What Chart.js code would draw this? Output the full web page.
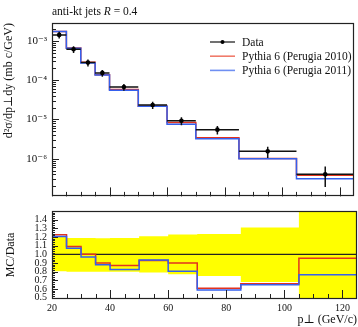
<!DOCTYPE html>
<html>
<head>
<meta charset="utf-8">
<script src="https://cdn.jsdelivr.net/npm/chart.js@4"></script>
<style>
  html, body { margin: 0; padding: 0; background: #fff; }
  #wrap { position: relative; width: 358px; height: 327px; }
  #mainBox { position: absolute; left: 0; top: 0; width: 358px; height: 208px; }
  #ratioBox { position: absolute; left: 0; top: 200px; width: 358px; height: 127px; }
</style>
</head>
<body>
<div id="wrap">
  <div id="mainBox"><canvas id="mainChart"></canvas></div>
  <div id="ratioBox"><canvas id="ratioChart"></canvas></div>
</div>
<script>
// p_T bin edges (GeV/c)
const binEdges = [20, 25, 30, 35, 40, 50, 60, 70, 85, 105, 125];

// measured cross section, mb c/GeV
const dataVals = [1.42e-3, 6.1e-4, 2.8e-4, 1.53e-4, 6.7e-5, 2.34e-5, 9.3e-6, 5.5e-6, 1.54e-6, 4.0e-7];
// relative uncertainties (up / down)
const dataErrUp = [0.21, 0.19, 0.19, 0.185, 0.19, 0.21, 0.23, 0.235, 0.31, 0.58];
const dataErrDn = [0.195, 0.20, 0.20, 0.20, 0.20, 0.21, 0.23, 0.25, 0.32, 0.52];

// MC predictions
const mc2010 = [1.74e-3, 6.6e-4, 2.85e-4, 1.38e-4, 5.8e-5, 2.18e-5, 8.4e-6, 3.4e-6, 1.02e-6, 3.8e-7];
const mc2011 = [1.72e-3, 6.5e-4, 2.72e-4, 1.35e-4, 5.5e-5, 2.18e-5, 7.5e-6, 3.25e-6, 1.0e-6, 3.1e-7];

// MC / Data
const ratio2010 = [1.225, 1.09, 1.0, 0.90, 0.87, 0.93, 0.90, 0.61, 0.66, 0.955];
const ratio2011 = [1.205, 1.07, 0.97, 0.88, 0.825, 0.935, 0.805, 0.59, 0.65, 0.765];

// tick labels
const xTicks = [20, 40, 60, 80, 100, 120];
const logTicks = [1e-6, 1e-5, 1e-4, 1e-3];
const ratioTicks = [0.5, 0.6, 0.7, 0.8, 0.9, 1.0, 1.1, 1.2, 1.3, 1.4];

const SERIF = "'Liberation Serif', 'DejaVu Serif', serif";
const RED = '#e2331f';
const BLUE = '#3560ee';

const histPoints = vals => binEdges.map((e, i) => ({ x: e, y: vals[Math.min(i, vals.length - 1)] }));
const binMid = binEdges.slice(0, -1).map((e, i) => (e + binEdges[i + 1]) / 2);

const supMap = { '-': '\u207B', '0': '\u2070', '1': '\u00B9', '2': '\u00B2', '3': '\u00B3', '4': '\u2074', '5': '\u2075', '6': '\u2076', '7': '\u2077', '8': '\u2078', '9': '\u2079' };
const sup = n => String(n).split('').map(c => supMap[c]).join('');

// minor tick positions
const xMinor = [];
for (let v = 25; v < 125; v += 5) if (v % 20 !== 0) xMinor.push(v);
const logMinor = [];
for (let e = -7; e <= -3; e++) for (let m = 2; m <= 9; m++) logMinor.push(m * Math.pow(10, e));
const ratioMinor = [];
for (let k = 25; k <= 75; k++) if (k % 5 !== 0) ratioMinor.push(k / 50);

// frame + inward ticks
function makeFrame(cfg) {
  return {
    id: 'frame',
    afterDraw(chart) {
      const { ctx, chartArea: a, scales } = chart;
      ctx.save();
      ctx.strokeStyle = '#222';
      ctx.lineWidth = 1;
      const seg = (x1, y1, x2, y2) => { ctx.beginPath(); ctx.moveTo(x1, y1); ctx.lineTo(x2, y2); ctx.stroke(); };
      cfg.yMajor.forEach(v => { const p = Math.round(scales.y.getPixelForValue(v)) + 0.5; seg(a.left, p, a.left + cfg.yMajLen, p); });
      cfg.yMinor.forEach(v => {
        const p = Math.round(scales.y.getPixelForValue(v)) + 0.5;
        if (p > a.top && p < a.bottom) seg(a.left, p, a.left + cfg.yMinLen, p);
      });
      cfg.xMajor.forEach(v => { const p = Math.round(scales.x.getPixelForValue(v)) + 0.5; seg(p, a.bottom, p, a.bottom - cfg.xMajLen); });
      cfg.xMinor.forEach(v => { const p = Math.round(scales.x.getPixelForValue(v)) + 0.5; seg(p, a.bottom, p, a.bottom - cfg.xMinLen); });
      ctx.lineWidth = 1.2;
      ctx.strokeRect(Math.round(a.left) + 0.5, Math.round(a.top) + 0.5, Math.round(a.width) - 1, Math.round(a.height) - 1);
      ctx.restore();
    }
  };
}

// data error bars, drawn just before the data markers
const errorBars = {
  id: 'errorBars',
  beforeDatasetDraw(chart, args) {
    if (args.index !== 0) return;
    const { ctx, scales: { x, y } } = chart;
    ctx.save();
    ctx.strokeStyle = '#111';
    ctx.lineWidth = 1.5;
    dataVals.forEach((v, i) => {
      const py = y.getPixelForValue(v);
      const px = x.getPixelForValue(binMid[i]);
      ctx.beginPath();
      ctx.moveTo(x.getPixelForValue(binEdges[i]), py);
      ctx.lineTo(x.getPixelForValue(binEdges[i + 1]), py);
      ctx.moveTo(px, y.getPixelForValue(v * (1 + dataErrUp[i])));
      ctx.lineTo(px, y.getPixelForValue(v * (1 - dataErrDn[i])));
      ctx.stroke();
    });
    ctx.restore();
  }
};

const legendBox = {
  id: 'legendBox',
  afterDraw(chart) {
    const { ctx, chartArea: a } = chart;
    const items = chart.data.datasets;
    const colors = ['#111', '#f07b6b', '#6f8ff2'];
    ctx.save();
    ctx.font = '11.5px ' + SERIF;
    ctx.textBaseline = 'middle';
    items.forEach((ds, i) => {
      const y = a.top + 19 + i * 14.2;
      const x0 = a.right - 144;
      ctx.strokeStyle = colors[i];
      ctx.lineWidth = i === 0 ? 1.2 : 1.6;
      ctx.beginPath(); ctx.moveTo(x0, y); ctx.lineTo(x0 + 25, y); ctx.stroke();
      if (i === 0) { ctx.fillStyle = '#000'; ctx.beginPath(); ctx.arc(x0 + 12.5, y, 2, 0, Math.PI * 2); ctx.fill(); }
      ctx.fillStyle = '#111';
      ctx.fillText(ds.label, x0 + 32, y + 0.5);
    });
    ctx.restore();
  }
};

const titleText = {
  id: 'titleText',
  afterDraw(chart) {
    const { ctx, chartArea: a } = chart;
    ctx.save();
    ctx.fillStyle = '#111';
    ctx.textBaseline = 'alphabetic';
    let x = a.left;
    const y = 15;
    const parts = [['anti-kt jets ', ''], ['R', 'italic '], [' = 0.4', '']];
    parts.forEach(([t, st]) => {
      ctx.font = st + '11.5px ' + SERIF;
      ctx.fillText(t, x, y);
      x += ctx.measureText(t).width;
    });
    ctx.restore();
  }
};

new Chart(document.getElementById('mainChart'), {
  type: 'line',
  data: {
    datasets: [
      { label: 'Data', data: binMid.map((x, i) => ({ x, y: dataVals[i] })), showLine: false,
        pointRadius: 2.3, pointBackgroundColor: '#000', pointBorderWidth: 0, order: 0 },
      { label: 'Pythia 6 (Perugia 2010)', data: histPoints(mc2010), stepped: 'before',
        borderColor: RED, borderWidth: 1.5, pointRadius: 0, order: 2 },
      { label: 'Pythia 6 (Perugia 2011)', data: histPoints(mc2011), stepped: 'before',
        borderColor: BLUE, borderWidth: 1.5, pointRadius: 0, order: 1 }
    ]
  },
  options: {
    responsive: true,
    maintainAspectRatio: false,
    animation: false,
    layout: { padding: { top: 23, right: 1, bottom: 1, left: 0 } },
    plugins: { legend: { display: false }, tooltip: { enabled: false } },
    scales: {
      x: { type: 'linear', min: 20, max: 125, display: false },
      y: {
        type: 'logarithmic', min: 1.1e-7, max: 2.85e-3,
        afterFit: s => { s.width = 52; },
        afterBuildTicks: s => { s.ticks = logTicks.map(v => ({ value: v })); },
        grid: { display: false, drawTicks: false },
        border: { display: false },
        ticks: { padding: 5, autoSkip: false, color: '#111', font: { family: SERIF, size: 11 },
                 callback: v => '10' + sup(Math.round(Math.log10(v))) },
        title: { display: true, text: 'd\u00B2\u03C3/dp\u22A5dy (mb c/GeV)', align: 'end', color: '#111',
                 font: { family: SERIF, size: 12 }, padding: { top: 2, bottom: 0 } }
      }
    }
  },
  plugins: [makeFrame({ yMajor: logTicks, yMinor: logMinor, xMajor: xTicks, xMinor: xMinor,
                        yMajLen: 7, yMinLen: 4, xMajLen: 9, xMinLen: 4.5 }),
            errorBars, legendBox, titleText]
});

new Chart(document.getElementById('ratioChart'), {
  type: 'line',
  data: {
    datasets: [
      { label: 'Perugia 2010 / Data', data: histPoints(ratio2010), stepped: 'before',
        borderColor: RED, borderWidth: 1.5, pointRadius: 0, order: 2 },
      { label: 'Perugia 2011 / Data', data: histPoints(ratio2011), stepped: 'before',
        borderColor: BLUE, borderWidth: 1.5, pointRadius: 0, order: 1 },
      { label: 'Data', data: [{ x: 20, y: 1 }, { x: 125, y: 1 }],
        borderColor: '#222', borderWidth: 1.2, pointRadius: 0, order: 3 },
      { label: 'Data band up', data: histPoints(dataErrUp.map(e => 1 + e)), stepped: 'before',
        borderWidth: 0, backgroundColor: '#ffff00', fill: '+1', pointRadius: 0, order: 10 },
      { label: 'Data band down', data: histPoints(dataErrDn.map(e => 1 - e)), stepped: 'before',
        borderWidth: 0, fill: false, pointRadius: 0, order: 11 }
    ]
  },
  options: {
    responsive: true,
    maintainAspectRatio: false,
    animation: false,
    layout: { padding: { top: 7, right: 1, bottom: 0, left: 0 } },
    plugins: { legend: { display: false }, tooltip: { enabled: false } },
    scales: {
      x: {
        type: 'linear', min: 20, max: 125,
        afterFit: s => { s.height = 28; },
        afterBuildTicks: s => { s.ticks = xTicks.map(v => ({ value: v })); },
        grid: { display: false, drawTicks: false },
        border: { display: false },
        ticks: { padding: 3, maxRotation: 0, autoSkip: false, color: '#111', font: { family: SERIF, size: 10 } },
        title: { display: true, text: 'p\u22A5 (GeV/c)', align: 'end', color: '#111',
                 font: { family: SERIF, size: 12 }, padding: { top: 0, bottom: 0 } }
      },
      y: {
        min: 0.485, max: 1.5,
        afterFit: s => { s.width = 52; },
        afterBuildTicks: s => { s.ticks = ratioTicks.map(v => ({ value: v })); },
        grid: { display: false, drawTicks: false },
        border: { display: false },
        ticks: { padding: 5, autoSkip: false, color: '#111', font: { family: SERIF, size: 10 },
                 callback: v => v.toFixed(1) },
        title: { display: true, text: 'MC/Data', color: '#111',
                 font: { family: SERIF, size: 12 }, padding: { top: 4, bottom: 0 } }
      }
    }
  },
  plugins: [makeFrame({ yMajor: ratioTicks, yMinor: ratioMinor, xMajor: xTicks, xMinor: xMinor,
                        yMajLen: 6, yMinLen: 3, xMajLen: 9, xMinLen: 5 })]
});
</script>
</body>
</html>
